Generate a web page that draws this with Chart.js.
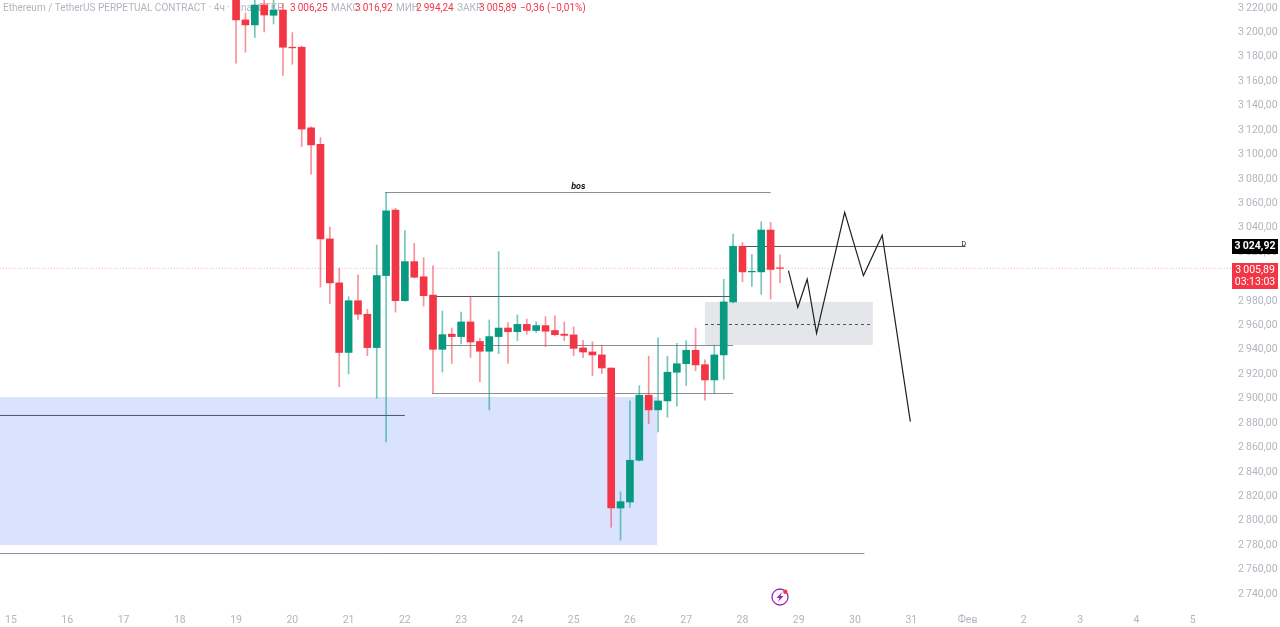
<!DOCTYPE html>
<html>
<head>
<meta charset="utf-8">
<title>ETHUSDT 4h</title>
<script src="https://cdn.jsdelivr.net/npm/chart.js@4/dist/chart.umd.min.js"></script>
<style>
    html, body { margin: 0; padding: 0; background: #ffffff; overflow: hidden; }
    canvas { display: block; }
</style>
</head>
<body>
<canvas id="chart" width="1280" height="627"></canvas>
<script>
// 4h candles, the first one sits on 19 Jan 00:00 (slot 24, slot 0 = 15 Jan 00:00)
const firstSlot = 24;
const candleOpen = [3230, 3209.4, 3205.3, 3221.6, 3213.2, 3217.5, 3187, 3187, 3121, 3107.5,
    3030, 2994, 2937, 2979.4, 2968.3, 2941, 3000, 3053.7, 2979.4, 3011.4,
    2999, 2984, 2939.6, 2952, 2950, 2962, 2946, 2938, 2950, 2957,
    2954, 2960, 2955, 2959, 2955, 2952, 2951.4, 2940.7, 2937.4, 2935,
    2924.3, 2809.6, 2814.5, 2848.7, 2902, 2890, 2897.3, 2920.8, 2927.8, 2938.8,
    2927, 2914.5, 2935, 2978.4, 3024, 3003, 3003, 3037.3, 3006.25];
const candleHigh = [3240, 3215, 3228, 3226, 3226, 3223, 3199, 3188, 3122, 3113,
    3040, 3006, 2982.7, 3000.5, 2972.4, 3025, 3068, 3055, 3036.8, 3026.4,
    3014.6, 3008, 2971, 2957, 2970, 2982.7, 2948.6, 2963.6, 3019.6, 2961.4,
    2967.7, 2964.4, 2962, 2966.4, 2967, 2962, 2958, 2947, 2945.8, 2943,
    2924.5, 2822.7, 2897.3, 2909.8, 2934, 2949, 2934, 2944.5, 2946.7, 2957,
    2931, 2943, 2997, 3034, 3027, 3017.4, 3044, 3043.6, 3016.92];
const candleLow = [3174, 3183, 3195, 3199.5, 3206, 3164, 3173, 3105.6, 3083, 2990.6,
    2977, 2909, 2919.4, 2964, 2934.4, 2899.5, 2863.7, 2970, 2979, 2998,
    2975, 2903.6, 2921, 2928, 2944, 2933, 2913, 2890, 2936, 2928,
    2946.7, 2952, 2953.5, 2941.8, 2950.5, 2946.7, 2934.4, 2932.7, 2918, 2919.7,
    2793.8, 2783.4, 2810, 2848, 2878.7, 2872, 2884, 2893, 2910, 2922,
    2898, 2903.6, 2915, 2977.5, 2995, 2991, 2984.7, 2980.8, 2994.24];
const candleClose = [3209.4, 3205.3, 3221.6, 3213.4, 3217.5, 3187, 3186.5, 3120, 3107, 3030,
    2994, 2937, 2979.4, 2968.3, 2941, 3000, 3053, 2979.4, 3011.4, 2998.6,
    2983.5, 2939.6, 2951.6, 2950, 2962, 2945.6, 2938, 2950, 2957, 2954,
    2960, 2955, 2959, 2954.4, 2951.6, 2951, 2940.4, 2937.4, 2935, 2924.3,
    2809.6, 2814.8, 2848.7, 2902, 2890, 2897.3, 2920.8, 2927.8, 2938.8, 2926.8,
    2914.5, 2935, 2978.4, 3024, 3003, 3003.5, 3037.3, 3005, 3005.89];

// Axis labels
const dayLabels = ['15', '16', '17', '18', '19', '20', '21', '22', '23', '24', '25', '26', '27', '28', '29', '30', '31', 'Фев', '2', '3', '4', '5'];
const priceTicks = [3220, 3200, 3180, 3160, 3140, 3120, 3100, 3080, 3060, 3040, 3020, 3000, 2980, 2960, 2940, 2920, 2900, 2880, 2860, 2840, 2820, 2800, 2780, 2760, 2740];

// Hand drawn levels: [slot from, slot to, price]
const darkLevels = [[-1.2, 42, 2885.4], [44.9, 76.9, 2982.85], [78, 101.8, 3023.8]];
const greyLevels = [[39.9, 81, 3068], [46, 77, 2942.7], [44.9, 77, 2903.4], [-1.2, 91, 2772.3]];
// Projected path
const pathSlots = [82.9, 83.9, 84.9, 85.9, 88.9, 90.9, 92.9, 95.9];
const pathPrices = [3004, 2974, 2997, 2952.7, 3051.8, 3000, 3033, 2880.3];
// Zones: slot from, slot to, price top, price bottom
const blueZone = [-1.2, 68.9, 2900.5, 2779.3];
const greyZone = [74, 91.9, 2978.4, 2943.1];
const greyZoneMid = 2959.9;
const lastPrice = 3005.89;
const markedPrice = 3024.92;

const UP = '#089981';
const DOWN = '#f23645';
const UP_WICK = 'rgba(8, 153, 129, 0.55)';
const DOWN_WICK = 'rgba(242, 54, 69, 0.55)';
const FONT = 'Roboto, sans-serif';

const fmtPrice = (v) => {
    const s = v.toFixed(2).replace('.', ',');
    return s.charAt(0) + '\u2009' + s.slice(1);
};

const isUp = (i) => candleClose[i] >= candleOpen[i];
const candleX = (i) => firstSlot + i;

const bodies = {
    type: 'bar',
    order: 2,
    barThickness: 7,
    data: candleOpen.map((o, i) => ({ x: candleX(i), y: [o, candleClose[i]] })),
    backgroundColor: candleOpen.map((o, i) => isUp(i) ? UP : DOWN),
    minBarLength: 0.6
};
const wicks = {
    type: 'bar',
    order: 3,
    barThickness: 1,
    data: candleOpen.map((o, i) => ({ x: candleX(i), y: [candleLow[i], candleHigh[i]] })),
    backgroundColor: candleOpen.map((o, i) => isUp(i) ? UP_WICK : DOWN_WICK)
};

function lineSet(points, color, extra) {
    return Object.assign({
        type: 'line',
        order: 4,
        data: points,
        borderColor: color,
        borderWidth: 1,
        pointRadius: 0,
        tension: 0,
        fill: false
    }, extra || {});
}

const datasets = [wicks, bodies];
darkLevels.forEach((l) => datasets.push(lineSet([{ x: l[0], y: l[2] }, { x: l[1], y: l[2] }], '#50535e')));
greyLevels.forEach((l) => datasets.push(lineSet([{ x: l[0], y: l[2] }, { x: l[1], y: l[2] }], '#8a8d96')));
datasets.push(lineSet(pathSlots.map((s, i) => ({ x: s, y: pathPrices[i] })), '#1c1f26', { borderWidth: 1.2, order: 1 }));
datasets.push(lineSet([{ x: greyZone[0], y: greyZoneMid }, { x: greyZone[1], y: greyZoneMid }], '#50535e', { borderDash: [3, 3] }));
datasets.push(lineSet([{ x: -1.2, y: lastPrice }, { x: 130.2, y: lastPrice }], 'rgba(242, 54, 69, 0.4)', { borderDash: [1, 2], order: 5 }));

function headerParts() {
    return [
        ['Ethereum / TetherUS PERPETUAL CONTRACT · 4ч · Binance', 3, '#b2b5be'],
        ['ОТКР', 258, '#b2b5be'], ['3\u2009006,25', 290, DOWN],
        ['МАКС', 331, '#b2b5be'], ['3\u2009016,92', 355, DOWN],
        ['МИН', 396, '#b2b5be'], ['2\u2009994,24', 416, DOWN],
        ['ЗАКР', 457, '#b2b5be'], ['3\u2009005,89', 479, DOWN],
        ['−0,36 (−0,01%)', 520, DOWN]
    ];
}

function drawZone(ctx, x, y, zone, color) {
    const left = x.getPixelForValue(zone[0]);
    const right = x.getPixelForValue(zone[1]);
    const top = y.getPixelForValue(zone[2]);
    const bottom = y.getPixelForValue(zone[3]);
    ctx.fillStyle = color;
    ctx.fillRect(left, top, right - left, bottom - top);
}

function drawTag(ctx, y, height, color, lines) {
    ctx.fillStyle = color;
    ctx.fillRect(1232, y, 46, height);
    ctx.fillStyle = '#ffffff';
    ctx.textAlign = 'center';
    ctx.textBaseline = 'middle';
    lines.forEach((t, i) => ctx.fillText(t, 1255, y + 7.5 + i * 12));
}

function drawBolt(ctx) {
    ctx.strokeStyle = '#9c27b0';
    ctx.lineWidth = 1.3;
    ctx.beginPath();
    ctx.arc(780, 597, 8, 0, Math.PI * 2);
    ctx.stroke();
    ctx.fillStyle = '#9c27b0';
    ctx.beginPath();
    ctx.moveTo(782, 592);
    ctx.lineTo(776.5, 598);
    ctx.lineTo(779.5, 598);
    ctx.lineTo(778, 602);
    ctx.lineTo(783.5, 596);
    ctx.lineTo(780.5, 596);
    ctx.closePath();
    ctx.fill();
    ctx.fillStyle = '#f23645';
    ctx.beginPath();
    ctx.arc(785.3, 591.7, 2.2, 0, Math.PI * 2);
    ctx.fill();
}

const overlay = {
    id: 'overlay',
    beforeDatasetsDraw(chart) {
        const { ctx, scales: { x, y } } = chart;
        ctx.save();
        drawZone(ctx, x, y, blueZone, '#d9e3fd');
        drawZone(ctx, x, y, greyZone, '#e5e6ea');
        ctx.font = '10px ' + FONT;
        ctx.textAlign = 'left';
        ctx.textBaseline = 'middle';
        headerParts().forEach((p) => {
            ctx.fillStyle = p[2];
            ctx.fillText(p[0], p[1], 8.5);
        });
        ctx.restore();
    },
    afterDraw(chart) {
        const { ctx, scales: { x, y } } = chart;
        ctx.save();
        ctx.fillStyle = '#131722';
        ctx.textAlign = 'center';
        ctx.textBaseline = 'middle';
        ctx.font = 'italic bold 9px ' + FONT;
        ctx.fillText('bos', x.getPixelForValue(60.5), y.getPixelForValue(3073));
        ctx.font = '7px ' + FONT;
        ctx.fillText('D', x.getPixelForValue(101.6), y.getPixelForValue(3026));
        ctx.font = 'bold 10.5px ' + FONT;
        drawTag(ctx, 239, 15, '#000000', [fmtPrice(markedPrice)]);
        ctx.font = '10.5px ' + FONT;
        drawTag(ctx, 263, 26, DOWN, [fmtPrice(lastPrice), '03:13:03']);
        drawBolt(ctx);
        ctx.restore();
    }
};

new Chart(document.getElementById('chart'), {
    data: { datasets: datasets },
    plugins: [overlay],
    options: {
        responsive: false,
        animation: false,
        devicePixelRatio: 1,
        layout: { padding: 0, autoPadding: false },
        datasets: { bar: { grouped: false } },
        plugins: { legend: { display: false }, tooltip: { enabled: false } },
        scales: {
            x: {
                type: 'linear',
                offset: false,
                min: -1.173,
                max: 130.2,
                grid: { display: false, drawTicks: false, offset: false },
                border: { display: false },
                afterFit: (scale) => { scale.height = 19; scale.paddingLeft = 0; scale.paddingRight = 0; },
                afterBuildTicks: (scale) => {
                    scale.ticks = dayLabels.map((d, i) => ({ value: i * 6 }));
                },
                ticks: {
                    autoSkip: false,
                    maxRotation: 0,
                    padding: 6,
                    color: '#b2b5be',
                    font: { family: FONT, size: 10.5 },
                    callback: (value) => dayLabels[value / 6]
                }
            },
            y: {
                type: 'linear',
                position: 'right',
                min: 2727.7,
                max: 3225.7,
                grid: { display: false, drawTicks: false },
                border: { display: false },
                afterFit: (scale) => { scale.width = 48; scale.paddingTop = 0; scale.paddingBottom = 0; },
                afterBuildTicks: (scale) => {
                    scale.ticks = priceTicks.map((v) => ({ value: v }));
                },
                ticks: {
                    autoSkip: false,
                    padding: 6,
                    labelOffset: 1,
                    color: '#b2b5be',
                    font: { family: FONT, size: 10.5 },
                    callback: (value) => fmtPrice(value)
                }
            }
        }
    }
});
</script>
</body>
</html>
